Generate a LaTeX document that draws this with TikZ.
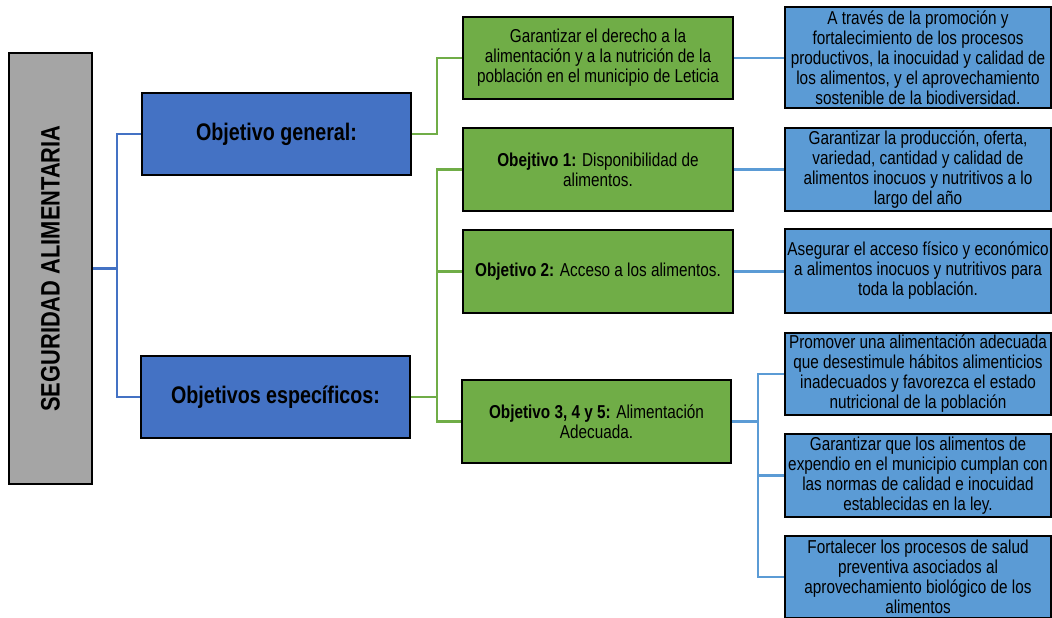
\documentclass[tikz,border=0pt]{standalone}
\usepackage{fontspec}
\setmainfont[FakeStretch=0.82]{Liberation Sans}
\definecolor{dblue}{HTML}{4472C4}
\definecolor{lblue}{HTML}{5B9BD5}
\definecolor{ggreen}{HTML}{70AD47}
\definecolor{ggray}{HTML}{A5A5A5}
\begin{document}
\begin{tikzpicture}[x=0.75pt,y=-0.75pt,
  box/.style={draw=black, line width=2.1pt, inner sep=1pt, align=center,
    font=\fontsize{14}{15}\selectfont, text=black},
  gbox/.style={box, fill=ggreen, minimum width=270*0.75pt, minimum height=83*0.75pt},
  bbox/.style={box, fill=lblue, minimum width=266*0.75pt, minimum height=83*0.75pt},
  hbox/.style={box, fill=dblue, minimum width=269*0.75pt, minimum height=82*0.75pt,
    font=\fontsize{18}{20}\selectfont\bfseries},
  lconn/.style={draw=dblue, line width=1.9pt},
  gconn/.style={draw=ggreen, line width=1.9pt},
  rconn/.style={draw=lblue, line width=1.9pt}]
\useasboundingbox (0,0) rectangle (1052,617);
% root
\node[box, fill=ggray, minimum width=431*0.75pt, minimum height=83*0.75pt,
  rotate=90, font=\fontsize{20}{22}\selectfont\bfseries] (seg) at (50.5,268.5) {SEGURIDAD ALIMENTARIA};
% level 1
\node[hbox] (og) at (276.5,134) {Objetivo general:};
\node[hbox] (oe) at (275.5,397) {Objetivos específicos:};
% level 2
\node[gbox, minimum height=82*0.75pt] (g0) at (598,58) {Garantizar el derecho a la\\alimentación y a la nutrición de la\\población en el municipio de Leticia};
\node[gbox] (g1) at (598,169.5) {\textbf{Obejtivo 1:} Disponibilidad de\\alimentos.};
\node[gbox] (g2) at (598,271.5) {\textbf{Objetivo 2:} Acceso a los alimentos.};
\node[gbox, minimum width=269*0.75pt] (g3) at (596.5,421.5) {\textbf{Objetivo 3, 4 y 5:} Alimentación\\Adecuada.};
% level 3
\node[bbox, minimum height=101*0.75pt] (b0) at (918,57.5) {A través de la promoción y\\fortalecimiento de los procesos\\productivos, la inocuidad y calidad de\\los alimentos, y el aprovechamiento\\sostenible de la biodiversidad.};
\node[bbox] (b1) at (918,169.5) {Garantizar la producción, oferta,\\variedad, cantidad y calidad de\\alimentos inocuos y nutritivos a lo\\largo del año};
\node[bbox, minimum height=84*0.75pt] (b2) at (918,271) {Asegurar el acceso físico y económico\\a alimentos inocuos y nutritivos para\\toda la población.};
\node[bbox, minimum height=82*0.75pt] (b3) at (918,374) {Promover una alimentación adecuada\\que desestimule hábitos alimenticios\\inadecuados y favorezca el estado\\nutricional de la población};
\node[bbox] (b4) at (918,475.5) {Garantizar que los alimentos de\\expendio en el municipio cumplan con\\las normas de calidad e inocuidad\\establecidas en la ley.};
\node[bbox, minimum height=82*0.75pt] (b5) at (918,577) {Fortalecer los procesos de salud\\preventiva asociados al\\aprovechamiento biológico de los\\alimentos};
% connectors root -> level 1
\coordinate (lj) at (117,268.5);
\draw[lconn] (seg.south) -- (lj);
\draw[lconn] (lj) |- (og.west);
\draw[lconn] (lj) |- (oe.west);
% level 1 -> level 2
\coordinate (gja) at (437,134);
\draw[gconn] (og.east) -- (gja) |- (g0.west);
\coordinate (gjb) at (437,397);
\draw[gconn] (oe.east) -- (gjb);
\draw[gconn] (gjb) |- (g1.west);
\draw[gconn] (gjb) |- (g2.west);
\draw[gconn] (gjb) |- (g3.west);
% level 2 -> level 3
\draw[rconn] (g0.east) -- (g0.east -| b0.west);
\draw[rconn] (g1.east) -- (b1.west);
\draw[rconn] (g2.east) -- (g2.east -| b2.west);
\coordinate (bj) at (758,421.5);
\draw[rconn] (g3.east) -- (bj);
\draw[rconn] (bj) |- (b3.west);
\draw[rconn] (bj) |- (b4.west);
\draw[rconn] (bj) |- (b5.west);
\end{tikzpicture}
\end{document}
